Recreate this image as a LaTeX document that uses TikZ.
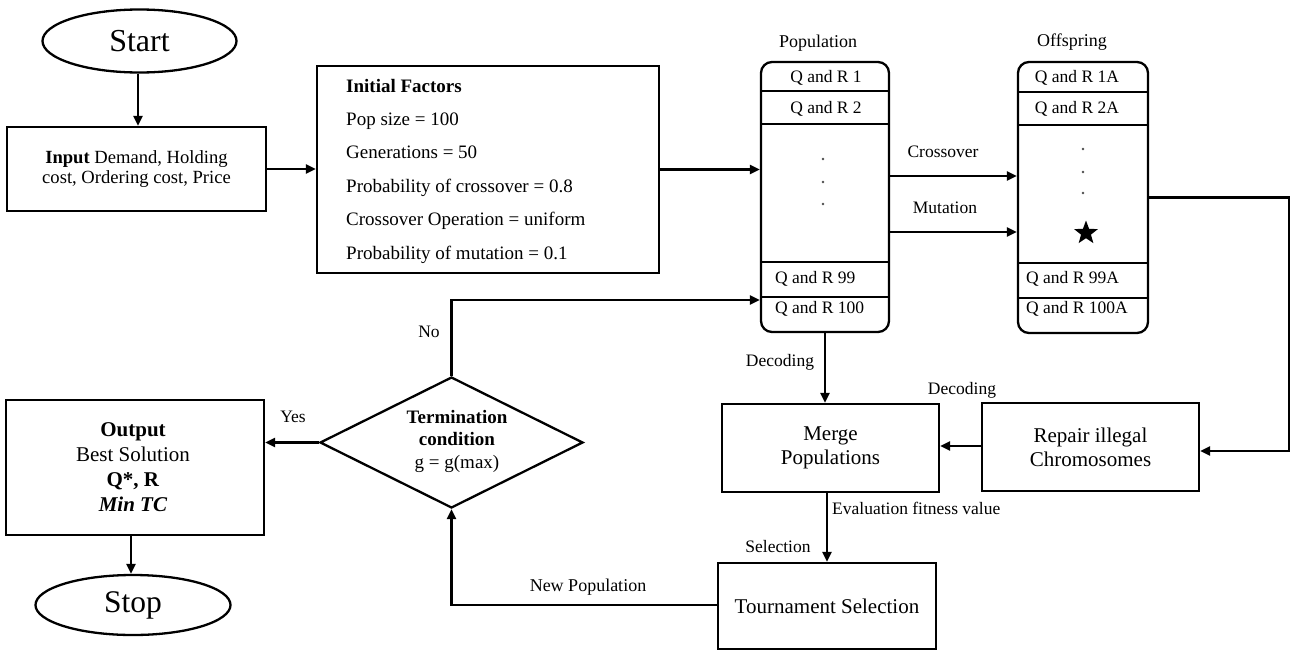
\documentclass[tikz,border=0pt]{standalone}
\usepackage{fontspec}
\setmainfont{Liberation Serif}
\usetikzlibrary{shapes.geometric,arrows.meta,calc}
\begin{document}
\begin{tikzpicture}[x=1pt,y=-1pt,
  lw/.style={line width=2.3pt},
  box/.style={draw,lw,rectangle,inner sep=0pt,align=center},
  oval/.style={draw,lw,ellipse,inner sep=0pt},
  arr/.style={lw,-{Triangle[length=10pt,width=9pt]}},
  lbl/.style={inner sep=0pt,font=\fontsize{17.5}{20}\selectfont},
  qr/.style={inner sep=0pt,font=\fontsize{17.5}{20}\selectfont},
  dotmark/.style={circle,fill=black!70,inner sep=0pt,minimum size=2.6pt},
]
\useasboundingbox (0,0) rectangle (1291,651);

% Start / Input / Initial
\node[oval,minimum width=194pt,minimum height=63pt,font=\fontsize{32}{36}\selectfont] (start) at (139.5,41) {Start};
\node[box,minimum width=259pt,minimum height=84pt,font=\fontsize{18.6}{20.5}\selectfont] (input) at (136.5,169) {\textbf{Input} Demand, Holding\\cost, Ordering cost, Price};
\node[box,minimum width=342pt,minimum height=207pt] (init) at (488,169.5) {};
\node[anchor=west,align=left,inner sep=0pt,font=\fontsize{19}{33.4}\selectfont] (inittext) at (346,171) {\textbf{Initial Factors}\\Pop size = 100\\Generations = 50\\Probability of crossover = 0.8\\Crossover Operation = uniform\\Probability of mutation = 0.1};

% Population
\node[lbl,font=\fontsize{18}{20}\selectfont] (poplbl) at (818,43) {Population};
\node[draw,lw,rectangle,rounded corners=11pt,minimum width=128pt,minimum height=270pt,inner sep=0pt] (pop) at (825,197) {};
\draw[lw] (761,91) -- (889,91);
\draw[lw] (761,124) -- (889,124);
\draw[lw] (761,262) -- (889,262);
\draw[lw] (761,297) -- (889,297);
\node[qr] (p1) at (826,78) {Q and R 1};
\node[qr] (p2) at (826,109) {Q and R 2};
\node[qr,anchor=west] (p99) at (775,279) {Q and R 99};
\node[qr,anchor=west] (p100) at (775,309) {Q and R 100};
\node[dotmark] (pd1) at (823,159) {};
\node[dotmark] (pd2) at (823,182) {};
\node[dotmark] (pd3) at (823,204) {};

% Offspring
\node[lbl,font=\fontsize{18}{20}\selectfont] (offlbl) at (1072,42) {Offspring};
\node[draw,lw,rectangle,rounded corners=11pt,minimum width=130pt,minimum height=271pt,inner sep=0pt] (off) at (1083,197.5) {};
\draw[lw] (1018,92) -- (1148,92);
\draw[lw] (1018,125) -- (1148,125);
\draw[lw] (1018,263) -- (1148,263);
\draw[lw] (1018,298) -- (1148,298);
\node[qr] (o1) at (1077,78) {Q and R 1A};
\node[qr] (o2) at (1077,109) {Q and R 2A};
\node[qr,anchor=west] (o99) at (1026,279) {Q and R 99A};
\node[qr,anchor=west] (o100) at (1026,309) {Q and R 100A};
\node[dotmark] (od1) at (1083,149) {};
\node[dotmark] (od2) at (1083,172) {};
\node[dotmark] (od3) at (1083,193) {};
\node[star,star points=5,star point ratio=2.4,fill=black,minimum size=25pt,inner sep=0pt] (star) at (1086,233) {};

% Middle boxes
\node[box,minimum width=217pt,minimum height=88pt,font=\fontsize{21}{23.5}\selectfont] (merge) at (830.5,448) {Merge\\Populations};
\node[box,minimum width=217pt,minimum height=88pt,font=\fontsize{21}{24}\selectfont] (repair) at (1090.5,447) {Repair illegal\\Chromosomes};
\node[box,minimum width=218pt,minimum height=86pt,font=\fontsize{21}{24}\selectfont] (tourn) at (827,606) {Tournament Selection};

% Decision
\node[draw,lw,diamond,aspect=2,inner sep=0pt,minimum width=263pt,minimum height=131pt] (diam) at (451.5,442.5) {};
\node[align=center,inner sep=0pt,font=\fontsize{19}{22.5}\selectfont] (diamtext) at (457,441) {\textbf{Termination}\\\textbf{condition}\\g = g(max)};

% Output / Stop
\node[box,minimum width=258pt,minimum height=135pt] (output) at (135,467.5) {};
\node[align=center,inner sep=0pt,font=\fontsize{21}{25}\selectfont] (outtext) at (133,467.5) {\textbf{Output}\\Best Solution\\\textbf{Q*, R}\\\textbf{\textit{Min TC}}};
\node[oval,minimum width=195pt,minimum height=60pt,font=\fontsize{31.5}{36}\selectfont] (stop) at (133,605) {Stop};

% Connectors
\draw[arr] ([xshift=-1.5pt]start.south) -- ([xshift=-1.5pt]start.south |- input.north);
\draw[arr] (input.east) -- (input.east -| init.west);
\draw[arr] (init.east) -- (init.east -| pop.west);
\draw[arr] ([yshift=21pt]pop.east) -- ([yshift=21pt]pop.east -| off.west);
\draw[arr] ([yshift=-35pt]pop.east) -- ([yshift=-35pt]pop.east -| off.west);
\draw[arr] (off.east) -- ++(140,0) |- ([yshift=-4pt]repair.east);
\draw[arr] (pop.south) -- (pop.south |- merge.north);
\draw[arr] ([yshift=1pt]repair.west) -- ([yshift=1pt]repair.west -| merge.east);
\draw[arr] ([xshift=-3.5pt]merge.south) -- ([xshift=-3.5pt]merge.south |- tourn.north);
\draw[arr] ([yshift=1pt]tourn.west) -| (diam.south);
\draw[arr] (diam.north) |- ([yshift=-103pt]pop.west);
\draw[arr] (diam.west) -- (diam.west -| output.east);
\draw[arr] ([xshift=-4pt]output.south) -- ([xshift=-4pt]output.south |- stop.north);

% Labels
\node[lbl] (lcross) at (943,152) {Crossover};
\node[lbl] (lmut) at (945,208) {Mutation};
\node[lbl] (ldec1) at (780,362) {Decoding};
\node[lbl] (ldec2) at (962,390) {Decoding};
\node[lbl,anchor=west] (leval) at (832,508) {Evaluation fitness value};
\node[lbl] (lsel) at (778,547) {Selection};
\node[lbl,font=\fontsize{18}{20}\selectfont] (lnew) at (588,587) {New Population};
\node[lbl] (lno) at (429,332) {No};
\node[lbl] (lyes) at (293,417) {Yes};
\end{tikzpicture}
\end{document}
